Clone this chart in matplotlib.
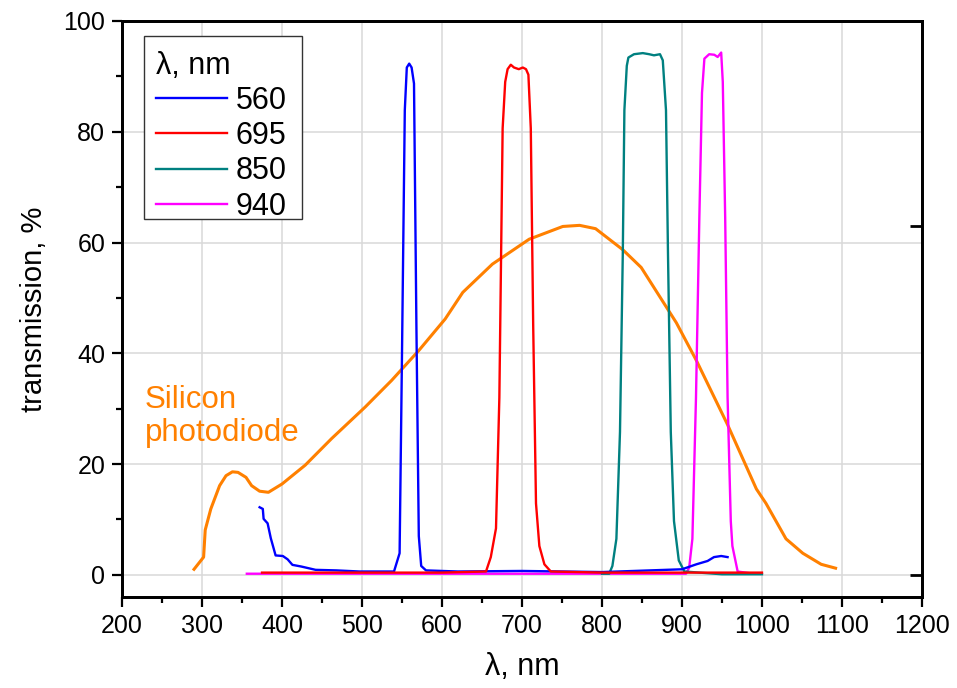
import numpy as np
import matplotlib.pyplot as plt
from matplotlib.patches import Rectangle

plt.rcParams['font.family'] = ['Liberation Sans', 'DejaVu Sans']

# silicon photodiode response, %
si_wl = [290, 302, 304, 311, 322, 330, 338, 345, 355, 362, 372, 383, 400, 429,
         462, 504, 537, 571, 604, 626, 663, 709, 751, 772, 792, 826, 849, 893,
         918, 957, 993, 1005, 1030, 1051, 1074, 1092]
si_val = [1.0, 3.2, 8.1, 11.9, 16.1, 17.9, 18.6, 18.5, 17.6, 16.1, 15.1, 14.9,
          16.4, 19.8, 24.6, 30.3, 35.1, 40.5, 46.2, 51.0, 56.1, 60.6, 62.9, 63.1,
          62.5, 58.7, 55.5, 45.5, 38.7, 27.1, 15.5, 12.9, 6.5, 3.9, 1.9, 1.2]

# band-pass filters, transmission %
f560_wl = [372, 376, 377, 382, 386, 392, 401, 407, 413, 424, 442, 468, 497, 540,
           547, 550, 553.5, 556, 559, 562, 565, 568, 571, 574, 580, 620, 700, 800,
           880, 900, 918, 932, 940, 949, 957]
f560_val = [12.2, 11.9, 10.1, 9.3, 6.6, 3.5, 3.4, 2.8, 1.8, 1.5, 0.9, 0.8, 0.6, 0.6,
            3.9, 40.0, 83.9, 91.6, 92.3, 91.6, 88.7, 45.0, 7.0, 1.6, 0.8, 0.6, 0.7,
            0.5, 0.9, 1.0, 1.9, 2.5, 3.2, 3.4, 3.2]

f695_wl = [375, 500, 600, 655, 661, 667.5, 671.7, 675.8, 679, 682, 686, 690, 696,
           701, 705, 708, 711, 714, 717.5, 721.7, 728, 736, 800, 900, 1000]
f695_val = [0.4, 0.4, 0.4, 0.6, 3.2, 8.4, 32.0, 80.6, 89.0, 91.3, 92.1, 91.6, 91.3,
            91.6, 91.3, 90.3, 80.6, 45.0, 12.9, 5.2, 1.9, 0.6, 0.4, 0.4, 0.4]

f850_wl = [800, 809, 813, 818, 822.5, 826, 828, 831, 833, 840, 851, 859, 865, 872.5,
           876, 880, 882.5, 886, 890, 896, 903, 950, 1000]
f850_val = [0.2, 0.2, 1.6, 6.5, 25.8, 58.0, 83.9, 91.9, 93.4, 94.0, 94.2, 94.0, 93.8,
            94.0, 92.9, 83.9, 58.0, 25.8, 9.7, 2.6, 0.6, 0.1, 0.1]

f940_wl = [356, 500, 700, 905, 909, 913, 917.5, 921.7, 925, 928, 934, 940.4, 944.6,
           949, 951, 954, 957, 961, 963, 969.6, 984]
f940_val = [0.2, 0.2, 0.2, 0.2, 1.3, 6.5, 32.0, 64.5, 87.0, 93.2, 94.0, 93.9, 93.5,
            94.3, 89.0, 64.5, 32.0, 9.7, 5.2, 0.6, 0.3]

filters = [('560', f560_wl, f560_val, '#0000ff', 2.4),
           ('695', f695_wl, f695_val, '#ff0000', 2.5),
           ('850', f850_wl, f850_val, '#008080', 2.3),
           ('940', f940_wl, f940_val, '#ff00ff', 2.2)]

fig = plt.figure(figsize=(9.57, 6.88), dpi=100)
ax = fig.add_axes([0.1275, 0.1323, 0.8359, 0.8372])

ax.plot(si_wl, si_val, color='#ff8000', lw=2.2, zorder=2.1)
for name, wl, val, col, z in filters:
    ax.plot(wl, val, color=col, lw=1.7, label=name, zorder=z)

ax.set_xlim(200, 1200)
ax.set_ylim(-4, 100)
ax.set_xticks(np.arange(200, 1201, 100))
ax.set_xticks(np.arange(250, 1200, 100), minor=True)
ax.set_yticks(np.arange(0, 101, 20))
ax.set_yticks(np.arange(10, 100, 20), minor=True)
ax.grid(True, which='major', color='#d9d9d9', lw=1.1, zorder=0)
ax.set_axisbelow(True)

ax.tick_params(which='major', direction='out', length=7, width=1.6,
               labelsize=18, pad=5, top=False, right=False)
ax.tick_params(which='minor', direction='out', length=4, width=1.6,
               top=False, right=False)
for s in ax.spines.values():
    s.set_linewidth(2)

# right-hand axis with two inward ticks
ax2 = ax.twinx()
ax2.set_ylim(ax.get_ylim())
ax2.set_yticks([0, 63])
ax2.tick_params(direction='in', length=9, width=2, labelright=False)
for s in ax2.spines.values():
    s.set_linewidth(2)

ax.set_xlabel('λ, nm', fontsize=22, labelpad=10)
ax.set_ylabel('transmission, %', fontsize=21, labelpad=11)

ax.text(228.5, 34.2, 'Silicon\nphotodiode', color='#ff8000', fontsize=22.5,
        va='top', ha='left', linespacing=1.13)

# legend box drawn separately so its padding is even around the entries
ax.add_patch(Rectangle((0.0275, 0.656), 0.1975, 0.318, transform=ax.transAxes,
                       facecolor='white', edgecolor='#333333', lw=1.0, zorder=4.5))
leg = ax.legend(title='λ, nm', loc='upper left', bbox_to_anchor=(0.0275, 0.9695),
                borderaxespad=0, fontsize=22, title_fontsize=22,
                alignment='left', frameon=False, handlelength=2.3,
                handletextpad=0.3, labelspacing=0.17, borderpad=0.4)

fig.savefig('out.png', dpi=100)
